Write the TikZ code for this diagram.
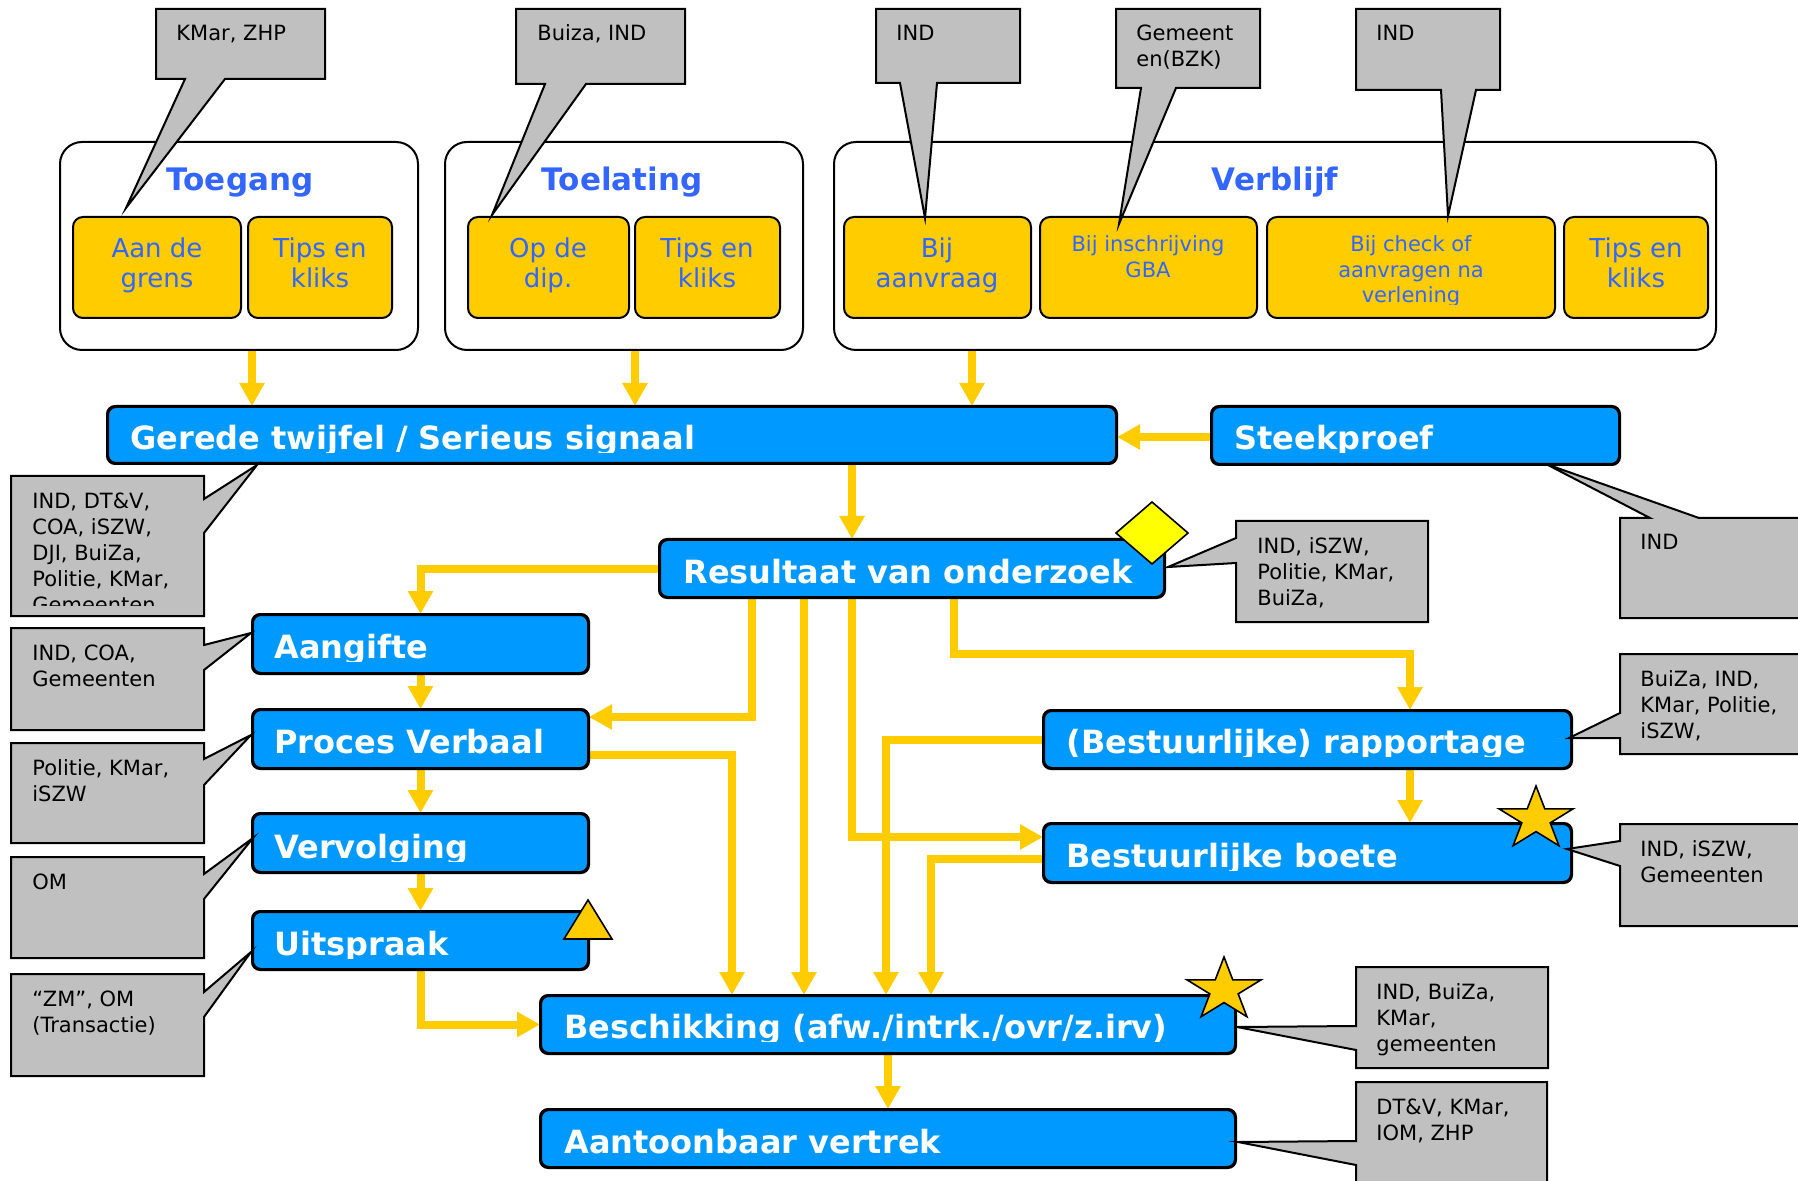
\documentclass[tikz,border=0pt]{standalone}
\usepackage{fontspec}
\setmainfont{DejaVu Sans}
\usetikzlibrary{arrows.meta,fit}
\definecolor{boxblue}{HTML}{0099FF}
\definecolor{arrowc}{HTML}{FFCC00}
\definecolor{callgray}{HTML}{C0C0C0}
\definecolor{titleblue}{HTML}{3366FF}
\definecolor{diamondy}{HTML}{FFFF00}
\newcommand\bluelabel[4]{%
  \begin{scope}\clip (#2-10,#3-45) rectangle (#2+900,#3+3);
  \node[btext] (#1) at (#2,#3) {#4};\end{scope}}
\newcommand\mystar[5]{%
  \draw[shapest] plot[samples at={0,...,9}]
    ({#2+#4*(1-0.618*mod(\x,2))*cos(90+36*\x)},{#3-#5*(1-0.618*mod(\x,2))*sin(90+36*\x)}) -- cycle;
  \coordinate (#1) at (#2,#3);}
\begin{document}
\begin{tikzpicture}[x=0.5pt,y=-0.5pt,
  container/.style={draw=black,line width=1pt,rounded corners=11pt,fill=white,inner sep=0pt},
  ybox/.style={draw=black,line width=1pt,fill=arrowc,rounded corners=5pt,inner sep=0pt},
  bbox/.style={draw=black,line width=1pt,fill=boxblue,rounded corners=4pt,inner sep=0pt},
  callout/.style={draw=black,line width=1pt,fill=callgray,line join=miter},
  ctext/.style={anchor=base west,inner sep=0pt,align=left,font=\fontsize{10.5pt}{13pt}\selectfont},
  btext/.style={anchor=base west,inner sep=0pt,text=white,font=\fontsize{16pt}{19pt}\selectfont\bfseries},
  ttext/.style={anchor=base,inner sep=0pt,text=titleblue,font=\fontsize{15.5pt}{18pt}\selectfont\bfseries},
  yt/.style={anchor=base,inner sep=0pt,align=center,text=titleblue,font=\fontsize{13pt}{15pt}\selectfont},
  yts/.style={anchor=base,inner sep=0pt,align=center,text=titleblue,font=\fontsize{10.5pt}{12.75pt}\selectfont},
  flow/.style={draw=arrowc,line width=4pt,-{Triangle[width=12pt,length=11.5pt]}},
  shapest/.style={draw=black,line width=0.8pt,fill=arrowc,line join=miter}]
\useasboundingbox (0,0) rectangle (1798,1181);
\fill[white] (0,0) rectangle (1798,1181);

% containers
\node[container,fit={(60,142)(418,350)}] (toegang) {};
\node[container,fit={(445,142)(803,350)}] (toelating) {};
\node[container,fit={(834,142)(1716,350)}] (verblijf) {};

% yellow boxes
\node[ybox,fit={(73,217)(241,318)}] (grens) {};
\node[ybox,fit={(248,217)(392,318)}] (tips1) {};
\node[ybox,fit={(468,217)(629,318)}] (dip) {};
\node[ybox,fit={(635,217)(780,318)}] (tips2) {};
\node[ybox,fit={(844,217)(1031,318)}] (aanvraag) {};
\node[ybox,fit={(1040,217)(1257,318)}] (gba) {};
\node[ybox,fit={(1267,217)(1555,318)}] (check) {};
\node[ybox,fit={(1564,217)(1708,318)}] (tips3) {};

% blue boxes
\node[bbox,fit={(108,407)(1116,463)}] (gerede) {};
\node[bbox,fit={(1212,407)(1619,464)}] (steek) {};
\node[bbox,fit={(660,540)(1164,597)}] (res) {};
\node[bbox,fit={(253,615)(588,673)}] (aang) {};
\node[bbox,fit={(253,710)(588,768)}] (pv) {};
\node[bbox,fit={(253,814)(588,872)}] (verv) {};
\node[bbox,fit={(253,912)(588,969)}] (uit) {};
\node[bbox,fit={(1044,711)(1571,768)}] (rap) {};
\node[bbox,fit={(1044,824)(1571,882)}] (boete) {};
\node[bbox,fit={(541,996)(1235,1053)}] (besch) {};
\node[bbox,fit={(541,1110)(1235,1167)}] (vertrek) {};

% connectors
\draw[flow] (toegang.south -| 252,0) -- (gerede.north -| 252,0);
\draw[flow] (toelating.south -| 635,0) -- (gerede.north -| 635,0);
\draw[flow] (verblijf.south -| 972,0) -- (gerede.north -| 972,0);
\draw[flow] (steek.west |- 0,437) -- (gerede.east |- 0,437);
\draw[flow] (gerede.south -| 852,0) -- (res.north -| 852,0);
\draw[flow] (res.west) -| (aang.north);
\draw[flow] (aang.south) -- (pv.north);
\draw[flow] (pv.south) -- (verv.north);
\draw[flow] (verv.south) -- (uit.north);
\draw[flow] (uit.south) |- (besch.west);
\draw[flow] (res.south -| 752,0) |- (pv.east |- 0,717);
\draw[flow] (pv.east |- 0,755) -| (besch.north -| 732,0);
\draw[flow] (res.south -| 804,0) -- (besch.north -| 804,0);
\draw[flow] (res.south -| 852,0) |- (boete.west |- 0,837);
\draw[flow] (res.south -| 954,0) -- (954,654) -- (1410,654) -- (rap.north -| 1410,0);
\draw[flow] (rap.west) -| (besch.north -| 886,0);
\draw[flow] (boete.west |- 0,859) -| (besch.north -| 931,0);
\draw[flow] (rap.south -| 1410,0) -- (boete.north -| 1410,0);
\draw[flow] (besch.south) -- (vertrek.north);

% redraw box borders over connector starts
\foreach \n in {gerede,steek,res,aang,pv,verv,uit,rap,boete,besch,vertrek}
  \draw[line width=1pt,rounded corners=4pt] (\n.north west) rectangle (\n.south east);

% callouts (top)
\draw[callout] (156,9) -- (325,9) -- (325,79) -- (225,79) -- (126,208) -- (185,79) -- (156,79) -- cycle;
\draw[callout] (516,9) -- (685,9) -- (685,84) -- (586,84) -- (492,215) -- (545,84) -- (516,84) -- cycle;
\draw[callout] (876,9) -- (1020,9) -- (1020,83) -- (937,83) -- (925,218) -- (900,83) -- (876,83) -- cycle;
\draw[callout] (1116,9) -- (1260,9) -- (1260,88) -- (1176,88) -- (1119,224) -- (1141,88) -- (1116,88) -- cycle;
\draw[callout] (1356,9) -- (1500,9) -- (1500,90) -- (1476,90) -- (1448,216) -- (1441,90) -- (1356,90) -- cycle;
% callouts (left)
\draw[callout] (11,476) -- (204,476) -- (204,499) -- (257,465) -- (204,533) -- (204,616) -- (11,616) -- cycle;
\draw[callout] (11,628) -- (204,628) -- (204,645) -- (251,633) -- (204,670) -- (204,730) -- (11,730) -- cycle;
\draw[callout] (11,743) -- (204,743) -- (204,759) -- (251,735) -- (204,785) -- (204,843) -- (11,843) -- cycle;
\draw[callout] (11,857) -- (204,857) -- (204,874) -- (253,838) -- (204,899) -- (204,958) -- (11,958) -- cycle;
\draw[callout] (11,974) -- (204,974) -- (204,992) -- (251,952) -- (204,1017) -- (204,1076) -- (11,1076) -- cycle;
% callouts (right)
\draw[callout] (1620,518) -- (1650,518) -- (1546,464) -- (1699,518) -- (1810,518) -- (1810,618) -- (1620,618) -- cycle;
\draw[callout] (1236,521) -- (1428,521) -- (1428,622) -- (1236,622) -- (1236,563) -- (1168,567) -- (1236,538) -- cycle;
\draw[callout] (1620,654) -- (1810,654) -- (1810,754) -- (1620,754) -- (1620,738) -- (1569,738) -- (1620,713) -- cycle;
\draw[callout] (1620,824) -- (1810,824) -- (1810,926) -- (1620,926) -- (1620,866) -- (1567,849) -- (1620,841) -- cycle;
\draw[callout] (1356,967) -- (1548,967) -- (1548,1068) -- (1356,1068) -- (1356,1050) -- (1237,1027) -- (1356,1026) -- cycle;
\draw[callout] (1356,1082) -- (1547,1082) -- (1547,1195) -- (1356,1195) -- (1356,1165) -- (1238,1142) -- (1356,1141) -- cycle;

% marker shapes
\draw[shapest] (588,900) -- (612,939) -- (564,939) -- cycle;
\draw[draw=black,line width=0.8pt,fill=diamondy] (1152,502) -- (1188,533) -- (1152,564) -- (1116,533) -- cycle;
\mystar{starboete}{1536}{819}{39}{33}
\mystar{starbesch}{1224}{990}{39}{33}

% titles
\node[ttext] (t-toegang) at (240,191) {Toegang};
\node[ttext] (t-toelating) at (622,191) {Toelating};
\node[ttext] (t-verblijf) at (1275,191) {Verblijf};

% yellow box texts (anchor base = last line)
\node[yt] (l-grens) at (157,288) {Aan de\\grens};
\node[yt] (l-tips1) at (320,288) {Tips en\\kliks};
\node[yt] (l-dip) at (548,288) {Op de\\dip.};
\node[yt] (l-tips2) at (707,288) {Tips en\\kliks};
\node[yt] (l-aanvraag) at (937,288) {Bij\\aanvraag};
\node[yts] (l-gba) at (1148,277.5) {Bij inschrijving\\GBA};
\begin{scope}\clip (1270,220) rectangle (1552,305);
\node[yts] (l-check) at (1411,303) {Bij check of\\aanvragen na\\verlening};
\end{scope}
\node[yt] (l-tips3) at (1636,288) {Tips en\\kliks};

% blue box texts
\bluelabel{l-gerede}{130}{450}{Gerede twijfel / Serieus signaal}
\bluelabel{l-steek}{1234}{450}{Steekproef}
\bluelabel{l-res}{683}{583}{Resultaat van onderzoek}
\bluelabel{l-aang}{274}{658}{Aangifte}
\bluelabel{l-pv}{274}{753}{Proces Verbaal}
\bluelabel{l-verv}{274}{858}{Vervolging}
\bluelabel{l-uit}{274}{955}{Uitspraak}
\bluelabel{l-rap}{1066}{753}{(Bestuurlijke) rapportage}
\bluelabel{l-boete}{1066}{867}{Bestuurlijke boete}
\bluelabel{l-besch}{564}{1038}{Beschikking (afw./intrk./ovr/z.irv)}
\bluelabel{l-vertrek}{564}{1153}{Aantoonbaar vertrek}

% callout texts (anchor base = last line)
\node[ctext] (c-kmar) at (176,41) {KMar, ZHP};
\node[ctext] (c-buiza) at (537,41) {Buiza, IND};
\node[ctext] (c-ind1) at (896,41) {IND};
\node[ctext] (c-gem) at (1136,67) {Gemeent\\en(BZK)};
\node[ctext] (c-ind2) at (1376,41) {IND};
\begin{scope}\clip (15,480) rectangle (200,605);
\node[ctext] (c-left1) at (32,612) {IND, DT\&V,\\COA, iSZW,\\DJI, BuiZa,\\Politie, KMar,\\Gemeenten};
\end{scope}
\node[ctext] (c-left2) at (32,686) {IND, COA,\\Gemeenten};
\node[ctext] (c-left3) at (32,801) {Politie, KMar,\\iSZW};
\node[ctext] (c-left4) at (32,889) {OM};
\node[ctext] (c-left5) at (32,1032) {“ZM”, OM\\(Transactie)};
\node[ctext] (c-steek) at (1640,550) {IND};
\node[ctext] (c-res) at (1257,605) {IND, iSZW,\\Politie, KMar,\\BuiZa,};
\node[ctext] (c-rap) at (1640,738) {BuiZa, IND,\\KMar, Politie,\\iSZW,};
\node[ctext] (c-boete) at (1640,882) {IND, iSZW,\\Gemeenten};
\node[ctext] (c-besch) at (1376,1051) {IND, BuiZa,\\KMar,\\gemeenten};
\node[ctext] (c-vertrek) at (1376,1140) {DT\&V, KMar,\\IOM, ZHP};
\end{tikzpicture}
\end{document}
